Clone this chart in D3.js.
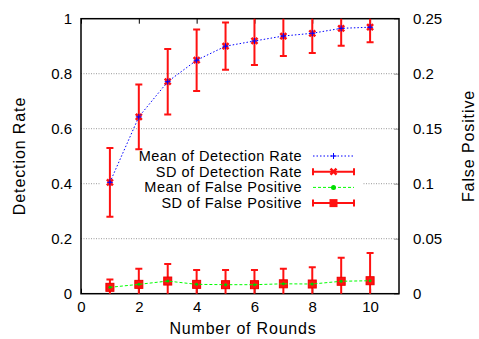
<!DOCTYPE html>
<html><head><meta charset="utf-8">
<script src="https://cdn.jsdelivr.net/npm/d3@7"></script>
<style>body{margin:0;background:#fff}svg{display:block}text{font-family:"Liberation Sans",Arial,sans-serif;fill:#000}</style>
</head><body><svg id="c" width="479" height="339"></svg>
<script>
const rounds = [1,2,3,4,5,6,7,8,9,10];
const detMean = [0.405, 0.643, 0.771, 0.849, 0.900, 0.919, 0.937, 0.947, 0.965, 0.969];
const detSD   = [0.125, 0.118, 0.119, 0.112, 0.086, 0.087, 0.073, 0.072, 0.063, 0.055];
const fpMean  = [0.0058, 0.0085, 0.0115, 0.0085, 0.0082, 0.0082, 0.0090, 0.0088, 0.0113, 0.0118];
const fpSD    = [0.0072, 0.0142, 0.0155, 0.0130, 0.0133, 0.0133, 0.0137, 0.0152, 0.0214, 0.0252];
const xTicks = [0,2,4,6,8,10];
const yTicks = [0,0.2,0.4,0.6,0.8,1];
const y2Ticks = [0,0.05,0.1,0.15,0.2,0.25];
const legendLabels = ["Mean of Detection Rate","SD of Detection Rate","Mean of False Positive","SD of False Positive"];

const svg = d3.select("#c");
const L=81, R=399, T=18.7, B=293.7;
const x = d3.scaleLinear().domain([0,11]).range([L,R]);
const y = d3.scaleLinear().domain([0,1]).range([B,T]);
const y2 = d3.scaleLinear().domain([0,0.25]).range([B,T]);

svg.append("defs").append("clipPath").attr("id","clip").append("rect")
  .attr("x",L).attr("y",T).attr("width",R-L).attr("height",B-T);

// grid
svg.append("g").selectAll("line").data(yTicks.filter(d=>d>0&&d<1)).join("line")
  .attr("x1",L).attr("x2",R).attr("y1",d=>y(d)).attr("y2",d=>y(d))
  .attr("stroke","#999").attr("stroke-width",1).attr("stroke-dasharray","1,1.5");

// axes
const fs = 15;
const ax = d3.axisBottom(x).tickValues(xTicks).tickSize(-5).tickPadding(8).tickFormat(d3.format("d"));
const gx = svg.append("g").attr("transform",`translate(0,${B})`).call(ax);
const axt = d3.axisTop(x).tickValues(xTicks).tickSize(-5).tickFormat("");
const gxt = svg.append("g").attr("transform",`translate(0,${T})`).call(axt);
const ayl = d3.axisLeft(y).tickValues(yTicks).tickSize(0).tickPadding(9).tickFormat(d=>d3.format("")(d));
const gy = svg.append("g").attr("transform",`translate(${L},0)`).call(ayl);
const ayr = d3.axisRight(y2).tickValues(y2Ticks).tickSize(-5).tickPadding(14).tickFormat(d=>d3.format("")(d));
const gy2 = svg.append("g").attr("transform",`translate(${R},0)`).call(ayr);
[gx,gxt,gy,gy2].forEach(g=>{
  g.select(".domain").remove();
  g.selectAll("text").attr("font-size",fs).attr("font-family","Liberation Sans, Arial, sans-serif");
  g.selectAll(".tick line").attr("stroke","#000");
});
gy2.selectAll(".tick line").attr("stroke","#999");

// frame
svg.append("rect").attr("x",L).attr("y",T).attr("width",R-L).attr("height",B-T)
  .attr("fill","none").attr("stroke","#000").attr("stroke-width",1.5);

// legend background (opaque key)
const legX = 302, legY0 = 156, legDy = 15.7;
svg.append("rect").attr("x",100).attr("y",147).attr("width",263).attr("height",63).attr("fill","#fff");

const plot = svg.append("g").attr("clip-path","url(#clip)");

const det = rounds.map((r,i)=>({r,m:detMean[i],s:detSD[i]}));
const fp = rounds.map((r,i)=>({r,m:fpMean[i],s:fpSD[i]}));

function errbars(g, data, ys, cap){
  g.selectAll(null).data(data).join("line")
    .attr("x1",d=>x(d.r)).attr("x2",d=>x(d.r))
    .attr("y1",d=>ys(d.m-d.s)).attr("y2",d=>ys(d.m+d.s))
    .attr("stroke","#f11").attr("stroke-width",2);
  ["-","+"].forEach(sg=>{
    g.selectAll(null).data(data).join("line")
      .attr("x1",d=>x(d.r)-cap).attr("x2",d=>x(d.r)+cap)
      .attr("y1",d=>ys(sg==="-"?d.m-d.s:d.m+d.s)).attr("y2",d=>ys(sg==="-"?d.m-d.s:d.m+d.s))
      .attr("stroke","#f11").attr("stroke-width",2);
  });
}

// detection SD
errbars(plot, det, y, 3.5);
plot.selectAll(null).data(det).join("path")
  .attr("d",d=>{const cx=x(d.r),cy=y(d.m),s=3;return `M${cx-s},${cy-s}L${cx+s},${cy+s}M${cx-s},${cy+s}L${cx+s},${cy-s}`;})
  .attr("stroke","#f11").attr("stroke-width",2.5);
plot.append("path").datum(det)
  .attr("d",d3.line().x(d=>x(d.r)).y(d=>y(d.m)))
  .attr("fill","none").attr("stroke","#00f").attr("stroke-width",1).attr("stroke-dasharray","1.5,2");
plot.selectAll(null).data(det).join("path")
  .attr("d",d=>{const cx=x(d.r),cy=y(d.m),s=3;return `M${cx-s},${cy}L${cx+s},${cy}M${cx},${cy-s}L${cx},${cy+s}`;})
  .attr("stroke","#00f").attr("stroke-width",1);

// false positive SD
errbars(plot, fp, y2, 3.5);
plot.selectAll(null).data(fp).join("rect")
  .attr("x",d=>x(d.r)-4).attr("y",d=>y2(d.m)-4).attr("width",8).attr("height",8)
  .attr("fill","#f11").attr("stroke","#e00").attr("stroke-width",1);
plot.append("path").datum(fp)
  .attr("d",d3.line().x(d=>x(d.r)).y(d=>y2(d.m)))
  .attr("fill","none").attr("stroke","#0f0").attr("stroke-width",1).attr("stroke-dasharray","3,2");
plot.selectAll(null).data(fp).join("circle")
  .attr("cx",d=>x(d.r)).attr("cy",d=>y2(d.m)).attr("r",1.5).attr("fill","#0c0");

// legend
const lg = svg.append("g");
legendLabels.forEach((t,i)=>{
  const yy = legY0 + i*legDy;
  lg.append("text").attr("x",legX).attr("y",yy).attr("dy","0.35em").attr("text-anchor","end")
    .attr("font-size",14.5).attr("letter-spacing",0.5).text(t);
  const x1=313, x2=354, xm=(x1+x2)/2;
  if(i===0){
    lg.append("line").attr("x1",x1).attr("x2",x2).attr("y1",yy).attr("y2",yy)
      .attr("stroke","#00f").attr("stroke-dasharray","1.5,2");
    lg.append("path").attr("d",`M${xm-3},${yy}L${xm+3},${yy}M${xm},${yy-3}L${xm},${yy+3}`).attr("stroke","#00f");
  } else if(i===2){
    lg.append("line").attr("x1",x1).attr("x2",x2).attr("y1",yy).attr("y2",yy)
      .attr("stroke","#0f0").attr("stroke-dasharray","3,2");
    lg.append("circle").attr("cx",xm).attr("cy",yy).attr("r",2.5).attr("fill","#0d0");
  } else {
    lg.append("line").attr("x1",x1).attr("x2",x2).attr("y1",yy).attr("y2",yy).attr("stroke","#f11").attr("stroke-width",2);
    [x1,x2].forEach(xx=>lg.append("line").attr("x1",xx).attr("x2",xx).attr("y1",yy-3.5).attr("y2",yy+3.5).attr("stroke","#f11").attr("stroke-width",2));
    if(i===1) lg.append("path").attr("d",`M${xm-3},${yy-3}L${xm+3},${yy+3}M${xm-3},${yy+3}L${xm+3},${yy-3}`).attr("stroke","#f11").attr("stroke-width",2.5);
    else lg.append("rect").attr("x",xm-4).attr("y",yy-4).attr("width",8).attr("height",8).attr("fill","#f11");
  }
});

// axis titles
svg.append("text").attr("transform",`translate(25,156) rotate(-90)`).attr("text-anchor","middle")
  .attr("font-size",16).attr("letter-spacing",0.9).text("Detection Rate");
svg.append("text").attr("transform",`translate(474,146) rotate(-90)`).attr("text-anchor","middle")
  .attr("font-size",16).attr("letter-spacing",0.9).text("False Positive");
svg.append("text").attr("x",243).attr("y",334).attr("text-anchor","middle")
  .attr("font-size",16).attr("letter-spacing",0.8).text("Number of Rounds");
</script></body></html>
